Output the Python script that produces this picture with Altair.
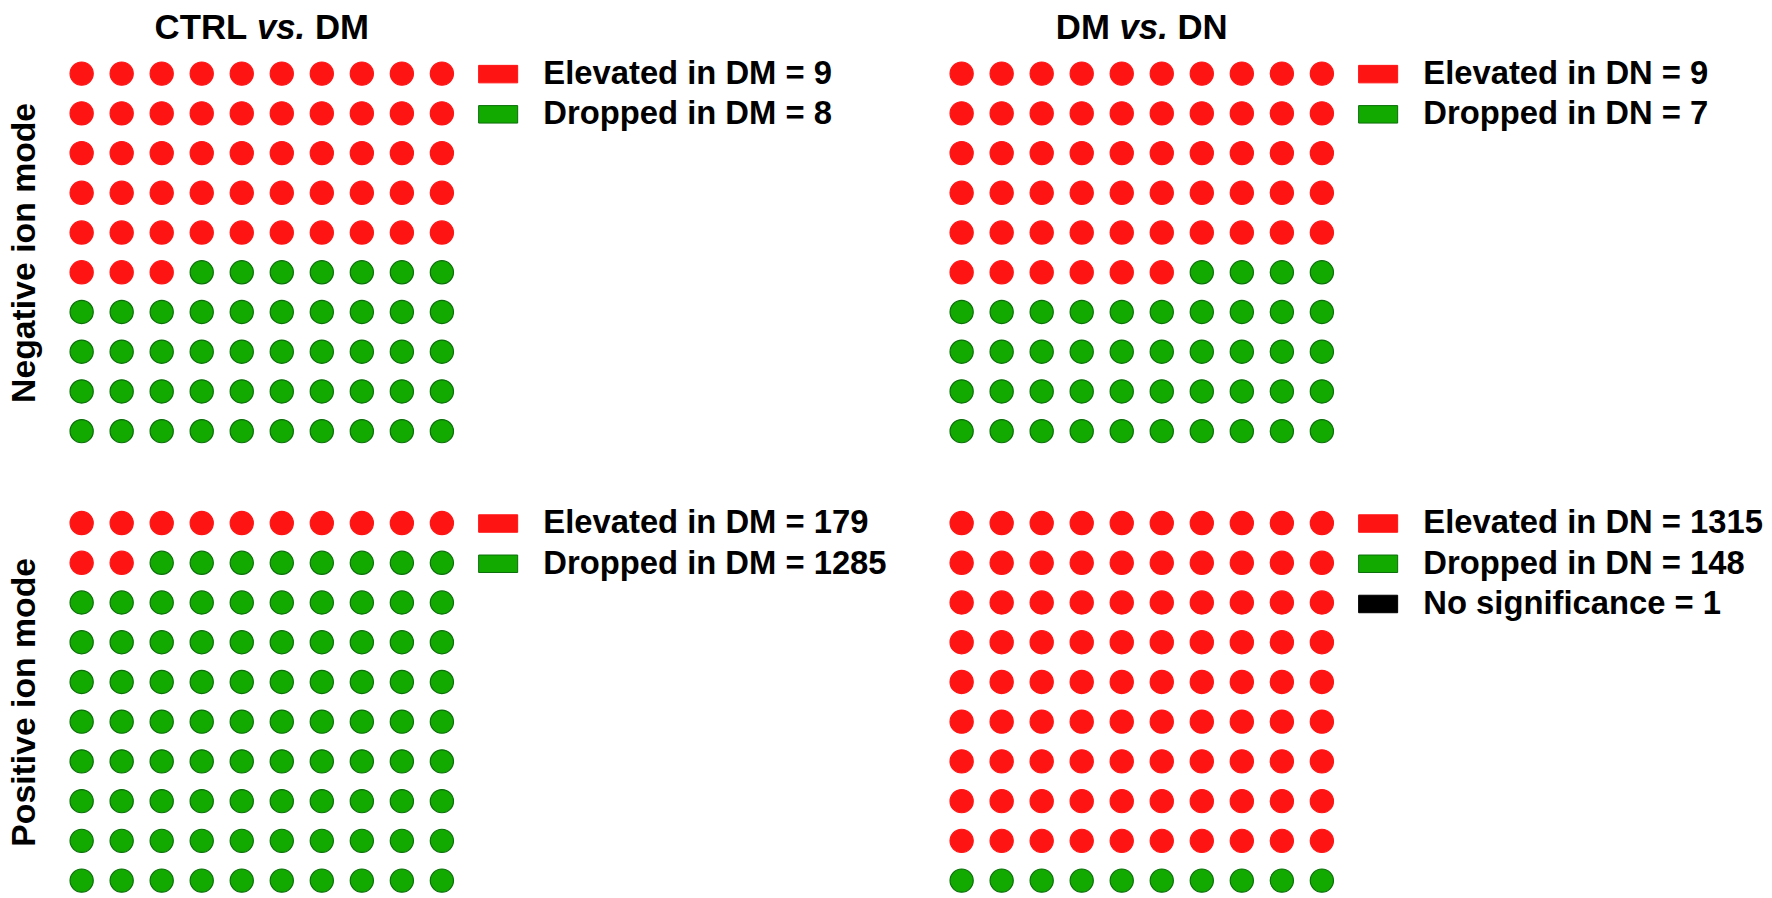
import altair as alt
import pandas as pd

# ---------------- data ----------------
left_groups = ["CTRL", "DM", "CTRL", "DM"]
right_groups = ["DM", "DN", "DM", "DN"]
modes = ["Negative ion mode", "Negative ion mode", "Positive ion mode", "Positive ion mode"]

legend_labels = [
    ["Elevated in DM = 9", "Dropped in DM = 8"],
    ["Elevated in DN = 9", "Dropped in DN = 7"],
    ["Elevated in DM = 179", "Dropped in DM = 1285"],
    ["Elevated in DN = 1315", "Dropped in DN = 148", "No significance = 1"],
]
# number of dots (out of 100) per category, read from the waffles
dot_counts = [
    [53, 47],
    [56, 44],
    [12, 88],
    [90, 10, 0],
]

fill_colors = ["#FF1414", "#12AA00", "#000000"]
stroke_colors = ["#FF1414", "#0A6E0A", "#000000"]

# ---------------- layout / style ----------------
W, H = 403, 400
FONT = "Liberation Sans"
TITLE_FS = 35
LEG_FS = 33
AX_FS = 34

# Arial/Liberation Sans Bold advance widths (per 1000 em) for title layout
ADV = {"C": 722, "T": 611, "R": 722, "L": 611, "D": 722, "M": 833, "N": 722,
       " ": 278, "v": 556, "s": 556, ".": 278}


def tw(s):
    return sum(ADV[c] for c in s) * TITLE_FS / 1000.0


def panel(i):
    labels = legend_labels[i]
    cats = []
    for lab, n in zip(labels, dot_counts[i]):
        cats += [lab] * n
    df = pd.DataFrame({
        "idx": list(range(100)),
        "cat": cats,
    })
    df["col"] = df["idx"] % 10
    df["row"] = df["idx"] // 10

    if i % 2 == 0:
        yaxis = alt.Axis(title=modes[i], labels=False, ticks=False, domain=False,
                         grid=False, minExtent=0, titleFont=FONT,
                         titleFontSize=AX_FS, titleFontWeight="bold",
                         titleColor="black", titlePadding=20)
    else:
        yaxis = None

    n = len(labels)
    leg = alt.Legend(title=None, orient="right", offset=16, padding=0,
                     symbolType="M-1,-0.448H1V0.448H-1Z", symbolSize=1544,
                     symbolOpacity=1, symbolStrokeWidth=1,
                     labelFont=FONT, labelFontSize=LEG_FS, labelFontWeight="bold",
                     labelColor="black", labelLimit=900, labelOffset=25,
                     rowPadding=2.5)

    dots = alt.Chart(df).mark_circle(size=545, opacity=1, strokeWidth=1.2).encode(
        x=alt.X("col:O", axis=None),
        y=alt.Y("row:O", axis=yaxis),
        color=alt.Color("cat:N", scale=alt.Scale(domain=labels, range=fill_colors[:n]),
                        legend=leg),
        stroke=alt.Stroke("cat:N", scale=alt.Scale(domain=labels, range=stroke_colors[:n]),
                          legend=leg),
    ).properties(width=W, height=H)

    layers = [dots]
    if i < 2:
        lpart, rpart = left_groups[i], right_groups[i]
        total = tw(lpart) + tw(" ") + tw("vs.") + tw(" ") + tw(rpart)
        x1 = W / 2 - total / 2
        x2 = x1 + tw(lpart) + tw(" ")
        x3 = x2 + tw("vs.") + tw(" ")
        ty = -14.5
        for txt, xx, style in [(lpart, x1, "normal"), ("vs.", x2, "italic"), (rpart, x3, "normal")]:
            t = alt.Chart(pd.DataFrame({"t": [txt]})).mark_text(
                font=FONT, fontSize=TITLE_FS, fontWeight="bold", fontStyle=style,
                align="left", baseline="alphabetic", color="black",
            ).encode(text="t:N", x=alt.value(xx), y=alt.value(ty))
            layers.append(t)
    return alt.layer(*layers).resolve_scale(color="independent", stroke="independent")


chart = alt.concat(
    panel(0), panel(1), panel(2), panel(3), columns=2,
    spacing=alt.RowColnumber(row=52.5, column=55),
).resolve_scale(
    color="independent", stroke="independent"
).resolve_legend(
    color="independent", stroke="independent"
).properties(
    padding=0
).configure_view(
    strokeWidth=0
)

chart.save("out.html", embed_options={"renderer": "svg", "actions": False})
